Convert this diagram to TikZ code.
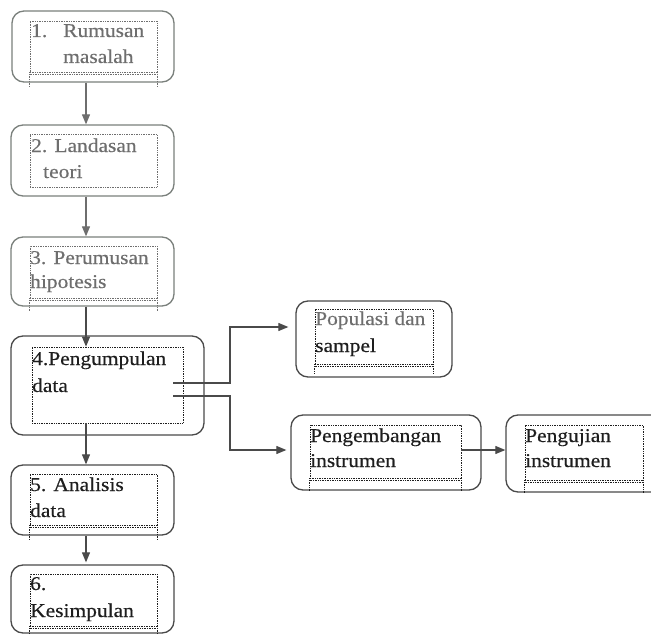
\documentclass[tikz,border=0pt]{standalone}
\usepackage{fontspec}
\setmainfont[FakeStretch=1.1,FakeBold=0.35]{Liberation Serif}
\usetikzlibrary{arrows.meta}
\definecolor{fadeline}{HTML}{7A807C}
\definecolor{fadetext}{HTML}{6E6E6E}
\definecolor{darkline}{HTML}{4A4A4A}
\definecolor{darktext}{HTML}{1E1E1E}
\tikzset{
  outerbox/.style={draw=#1, line width=1.3pt, rounded corners=12pt, inner sep=0pt},
  innerbox/.style={draw=#1, line width=0.7pt, densely dotted, inner sep=0pt},
  dotline/.style={draw=#1, line width=0.7pt, densely dotted},
  lbl/.style={anchor=base west, inner sep=0pt, text=#1, font=\fontsize{19.5}{26}\selectfont},
  arr/.style={draw=#1, line width=1.1pt, -{Triangle[length=10pt,width=8pt]}}
}
\begin{document}
\begin{tikzpicture}[x=1pt,y=-1pt]
\useasboundingbox[fill=white] (0,0) rectangle (651,634);
\begin{scope}
\clip (0,0) rectangle (651,634);
% ---- box 1
\node[outerbox=fadeline, minimum width=162pt, minimum height=71pt] (b1) at (93,46.5) {};
\node[innerbox=fadetext, minimum width=127pt, minimum height=51pt] (b1i) at (93.5,46.5) {};
\draw[dotline=fadetext] ([yshift=-2pt]b1i.south west) -- ([yshift=-2pt]b1i.south east);
\draw[dotline=fadetext] (b1i.south west) -- ++(0,14);
\draw[dotline=fadetext] (b1i.south east) -- ++(0,14);
\node[lbl=fadetext] (t1a) at (31,37) {1.};
\node[lbl=fadetext] (t1b) at (63,37) {Rumusan};
\node[lbl=fadetext] (t1c) at (63,63) {masalah};
% ---- box 2
\node[outerbox=fadeline, minimum width=163pt, minimum height=71pt] (b2) at (92.5,160.5) {};
\node[innerbox=fadetext, minimum width=127pt, minimum height=53pt] (b2i) at (93.5,160.5) {};
\node[lbl=fadetext] (t2a) at (31,152) {2. Landasan};
\node[lbl=fadetext] (t2b) at (43,178) {teori};
% ---- box 3
\node[outerbox=fadeline, minimum width=163pt, minimum height=69pt] (b3) at (92.5,271.5) {};
\node[innerbox=fadetext, minimum width=127pt, minimum height=52pt] (b3i) at (93.5,272) {};
\draw[dotline=fadetext] ([yshift=-2pt]b3i.south west) -- ([yshift=-2pt]b3i.south east);
\draw[dotline=fadetext] (b3i.south west) -- ++(0,12);
\draw[dotline=fadetext] (b3i.south east) -- ++(0,12);
\node[lbl=fadetext] (t3a) at (30,264) {3. Perumusan};
\node[lbl=fadetext] (t3b) at (30,288) {hipotesis};
% ---- box 4
\node[outerbox=darkline, minimum width=193pt, minimum height=99pt] (b4) at (107.5,385.5) {};
\node[innerbox=darktext, minimum width=151pt, minimum height=76pt] (b4i) at (107.5,385) {};
\node[lbl=darktext] (t4a) at (32,365) {4.Pengumpulan};
\node[lbl=darktext] (t4b) at (32,392) {data};
% ---- box 5
\node[outerbox=darkline, minimum width=163pt, minimum height=70pt] (b5) at (92.5,500) {};
\node[innerbox=darktext, minimum width=127pt, minimum height=51pt] (b5i) at (93.5,499.5) {};
\draw[dotline=darktext] ([yshift=-2pt]b5i.south west) -- ([yshift=-2pt]b5i.south east);
\draw[dotline=darktext] (b5i.south west) -- ++(0,15);
\draw[dotline=darktext] (b5i.south east) -- ++(0,15);
\node[lbl=darktext] (t5a) at (30,491) {5. Analisis};
\node[lbl=darktext] (t5b) at (30,517) {data};
% ---- box 6
\node[outerbox=darkline, minimum width=163pt, minimum height=68pt] (b6) at (92.5,599) {};
\node[innerbox=darktext, minimum width=127pt, minimum height=52pt] (b6i) at (93.5,600) {};
\draw[dotline=darktext] ([yshift=-2pt]b6i.south west) -- ([yshift=-2pt]b6i.south east);
\draw[dotline=darktext] (b6i.south west) -- ++(0,10);
\draw[dotline=darktext] (b6i.south east) -- ++(0,10);
\node[lbl=darktext] (t6a) at (30,590) {6.};
\node[lbl=darktext] (t6b) at (30,617) {Kesimpulan};
% ---- Populasi dan sampel
\node[outerbox=darkline, minimum width=156pt, minimum height=76pt] (pop) at (374,339) {};
\node[innerbox=darktext, minimum width=118pt, minimum height=55pt] (popi) at (374,336.5) {};
\draw[dotline=darktext] ([yshift=-2pt]popi.south west) -- ([yshift=-2pt]popi.south east);
\draw[dotline=darktext] (popi.south west) -- ++(0,9);
\draw[dotline=darktext] (popi.south east) -- ++(0,9);
\node[lbl=fadetext] (tpa) at (315,325) {Populasi dan};
\node[lbl=darktext] (tpb) at (315,352) {sampel};
% ---- Pengembangan instrumen
\node[outerbox=darkline, minimum width=190pt, minimum height=75pt] (peng) at (386,452.5) {};
\node[innerbox=darktext, minimum width=151pt, minimum height=53pt] (pengi) at (385.5,451.5) {};
\draw[dotline=darktext] ([yshift=-2pt]pengi.south west) -- ([yshift=-2pt]pengi.south east);
\draw[dotline=darktext] (pengi.south west) -- ++(0,12);
\draw[dotline=darktext] (pengi.south east) -- ++(0,12);
\node[lbl=darktext] (tga) at (310,442) {Pengembangan};
\node[lbl=darktext] (tgb) at (310,467) {instrumen};
% ---- Pengujian instrumen
\node[outerbox=darkline, minimum width=170pt, minimum height=77pt] (uji) at (591,453.5) {};
\node[innerbox=darktext, minimum width=118pt, minimum height=55pt] (ujii) at (584,452.5) {};
\draw[dotline=darktext] ([yshift=-2pt]ujii.south west) -- ([yshift=-2pt]ujii.south east);
\draw[dotline=darktext] (ujii.south west) -- ++(0,12);
\draw[dotline=darktext] (ujii.south east) -- ++(0,12);
\node[lbl=darktext] (tua) at (525,442) {Pengujian};
\node[lbl=darktext] (tub) at (525,467) {instrumen};
\end{scope}
% ---- connectors
\draw[arr=fadetext] ([xshift=-7pt]b1.south) -- ([xshift=-6.5pt]b2.north);
\draw[arr=fadetext] ([xshift=-6.5pt]b2.south) -- ([xshift=-6.5pt]b3.north);
\draw[arr=darkline] ([xshift=-6.5pt]b3.south) -- ([xshift=-21.5pt]b4i.north);
\draw[arr=darkline] ([xshift=-21.5pt]b4i.south) -- ([xshift=-6.5pt]b5.north);
\draw[arr=darkline] ([xshift=-6.5pt]b5.south) -- ([xshift=-6.5pt,yshift=2pt]b6.north);
\coordinate (s1) at (173,383);
\coordinate (s2) at (173,396);
\draw[arr=darkline] (s1) -- ++(57,0) |- ([xshift=-7pt,yshift=12pt]pop.west);
\draw[arr=darkline] (s2) -- ++(57,0) |- ([xshift=-4pt,yshift=2.5pt]peng.west);
\draw[arr=darkline] ([yshift=1.5pt]pengi.east) -- ([yshift=1.5pt]pengi.east -| uji.west);
\end{tikzpicture}
\end{document}
